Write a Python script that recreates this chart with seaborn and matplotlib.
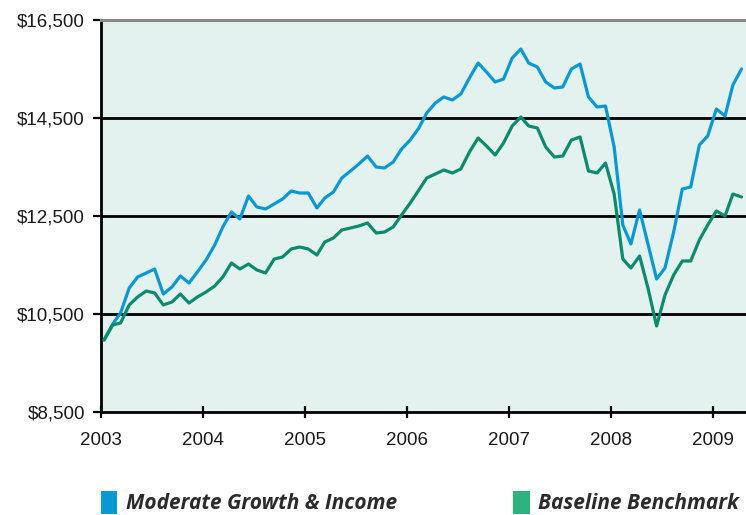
import numpy as np
import pandas as pd
import matplotlib
matplotlib.use("Agg")
import matplotlib.pyplot as plt
import matplotlib.dates as mdates
from matplotlib.patches import Patch
import seaborn as sns

# ---- data (monthly values) ----
start_month = "2003-01-01"
moderate = [9969, 10296, 10520, 11031, 11255, 11337, 11418, 10908, 11051, 11276,
            11133, 11357, 11602, 11908, 12276, 12582, 12439, 12908, 12684, 12643,
            12745, 12847, 13010, 12969, 12969, 12663, 12867, 12990, 13276, 13418,
            13561, 13724, 13500, 13480, 13602, 13867, 14051, 14296, 14602, 14806,
            14929, 14867, 14990, 15316, 15622, 15439, 15235, 15296, 15724, 15908,
            15622, 15541, 15235, 15112, 15133, 15500, 15602, 14929, 14724, 14745,
            13908, 12316, 11929, 12622, 11929, 11214, 11439, 12173, 13051, 13092,
            13949, 14133, 14684, 14541, 15173, 15500]
baseline = [9969, 10276, 10316, 10684, 10847, 10969, 10929, 10684, 10745, 10908,
            10724, 10847, 10949, 11071, 11255, 11541, 11418, 11520, 11398, 11337,
            11622, 11663, 11827, 11867, 11827, 11704, 11969, 12051, 12214, 12255,
            12296, 12357, 12153, 12173, 12276, 12520, 12765, 13031, 13276, 13357,
            13439, 13378, 13459, 13806, 14092, 13929, 13745, 13990, 14337, 14520,
            14337, 14296, 13908, 13704, 13724, 14051, 14112, 13418, 13378, 13582,
            12949, 11622, 11439, 11684, 11031, 10255, 10888, 11296, 11582, 11582,
            12010, 12316, 12602, 12500, 12949, 12888]
series_names = ["Moderate Growth & Income", "Baseline Benchmark"]
line_colors = ["#0A98D2", "#0B8A6E"]
legend_colors = ["#0A98D2", "#2DB47E"]
y_ticks = [8500, 10500, 12500, 14500, 16500]
y_labels = ["$8,500", "$10,500", "$12,500", "$14,500", "$16,500"]

dates = pd.date_range(start_month, periods=len(moderate), freq="MS") + pd.Timedelta(days=11)
df = pd.DataFrame({
    "date": np.concatenate([dates, dates]),
    "value": moderate + baseline,
    "series": [series_names[0]] * len(moderate) + [series_names[1]] * len(baseline),
})

sns.set_theme(style="white")
plt.rcParams["font.family"] = ["Liberation Sans", "DejaVu Sans"]

fig = plt.figure(figsize=(7.46, 5.15), dpi=100)
ax = fig.add_axes([101 / 746, 1 - 412 / 515, 1 - 101 / 746, (412 - 20) / 515])
ax.set_facecolor("#E3F2EF")

for y in y_ticks[1:-1]:
    ax.axhline(y, color="black", lw=2.0, zorder=1)

sns.lineplot(data=df, x="date", y="value", hue="series", palette=line_colors,
             hue_order=series_names, lw=2.3, ax=ax, legend=False, zorder=3)

ax.set_ylim(8500, 16500)
ax.set_xlim(pd.Timestamp("2003-01-01"), pd.Timestamp("2009-04-28"))
ax.set_yticks(y_ticks)
ax.set_yticklabels(y_labels)
ax.xaxis.set_major_locator(mdates.YearLocator())
ax.xaxis.set_major_formatter(mdates.DateFormatter("%Y"))
ax.set_xlabel("")
ax.set_ylabel("")

for s in ["left", "bottom"]:
    ax.spines[s].set_color("black")
    ax.spines[s].set_linewidth(2.0)
ax.spines["top"].set_color("#8a8a8a")
ax.spines["top"].set_linewidth(2.2)
ax.spines["right"].set_visible(False)

ax.tick_params(axis="y", direction="out", length=5.5, width=1.6, color="black",
               labelsize=13.5, pad=6, labelcolor="#1a1a1a", left=True)
ax.tick_params(axis="x", direction="inout", length=9, width=1.6, color="black",
               labelsize=13.5, pad=10, labelcolor="#1a1a1a", bottom=True)

legend_font = dict(family=["Open Sans", "DejaVu Sans"], style="italic", weight="bold", size=15)
for name, col, xpos in zip(series_names, legend_colors, [0.135, 0.688]):
    fig.legend(handles=[Patch(facecolor=col, edgecolor="none", label=name)],
               loc="center left", bbox_to_anchor=(xpos, 0.024), frameon=False,
               handlelength=0.8, handleheight=1.3, handletextpad=0.4,
               prop=legend_font, labelcolor="#2b2b2b", borderaxespad=0, borderpad=0)

fig.savefig("out.png", dpi=100)
